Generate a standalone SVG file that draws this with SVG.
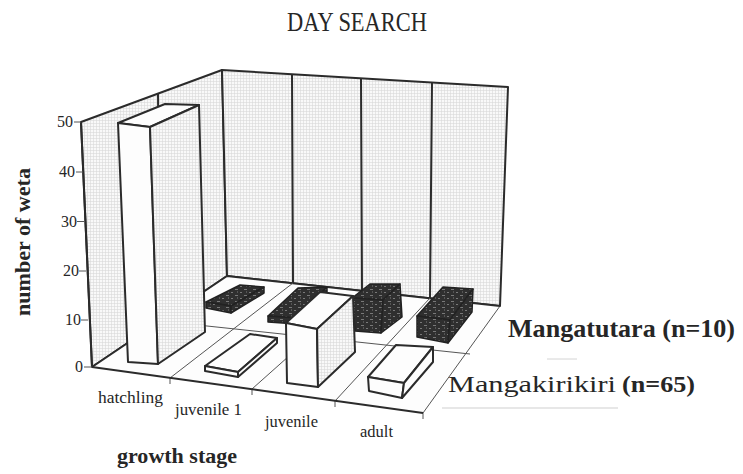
<svg xmlns="http://www.w3.org/2000/svg" width="743" height="474" viewBox="0 0 743 474">
<defs>
<pattern id="grid" width="3" height="3" patternUnits="userSpaceOnUse">
<rect width="3" height="3" fill="#f9f9f9"/>
<path d="M0 0.5H3M0.5 0V3" stroke="#d8d8d8" stroke-width="0.6"/>
</pattern>
<pattern id="dark" width="9" height="6" patternUnits="userSpaceOnUse">
<rect width="9" height="6" fill="#2f2f2f"/>
<path d="M1 1.5h3M6 4.5h2M3 4h1" stroke="#9a9a9a" stroke-width="0.7"/>
</pattern>
<style>
.ln{fill:none;stroke:#2b2b2b;stroke-width:2;stroke-linejoin:round}
.thin{fill:none;stroke:#555;stroke-width:1}
.wall{fill:url(#grid);stroke:#2b2b2b;stroke-width:2;stroke-linejoin:round}
.wh{fill:#fdfdfd;stroke:#2b2b2b;stroke-width:2;stroke-linejoin:round}
.gr{fill:url(#grid);stroke:#2b2b2b;stroke-width:2;stroke-linejoin:round}
.dk{fill:url(#dark);stroke:#222;stroke-width:1.5;stroke-linejoin:round}
.t{font-family:"Liberation Serif","Times New Roman",serif;fill:#262626}
.tick{font-size:16px;text-anchor:end}
.cat{font-size:16.5px}
.b{font-weight:bold}
</style>
</defs>
<rect width="743" height="474" fill="#ffffff"/>
<text class="t" x="357" y="31" font-size="28" text-anchor="middle" textLength="140" lengthAdjust="spacingAndGlyphs">DAY SEARCH</text>

<g id="walls">
<polygon class="wall" points="81,122 222,70 227,276 92,367"/>
<polygon class="wall" points="222,70 508,87 500,306 227,276"/>
<path class="ln" stroke-width="1.5" d="M292,74 L293,283 M361,78 L362,291 M432,82.5 L430,298"/>
<path class="ln" stroke-width="1.2" d="M158,94 L160,321"/>
</g>

<g id="floor">
<polygon points="92,367 227,276 500,306 423,413" fill="#fdfdfd"/>
<path class="thin" d="M500,306 L423,413"/>
<path class="ln" stroke-width="1.6" d="M92,367 L227,276 L500,306"/>
<path class="thin" d="M170,378 L293,283 M252,389 L362,291 M335,401 L430,298 M160,321 L470,354"/>
<path class="thin" d="M170,378 V384 M252,389 V395 M335,401 V407 M423,413 V419"/>
<path class="ln" d="M81,122 L92,367"/>
<path class="ln" stroke-width="1.5" d="M92,367 L423,413"/>
</g>

<g id="y-axis">
<path class="thin" d="M74,122 H81 M76,172 H83 M77,221.5 H84 M79,271 H86 M81,320 H88 M84,367 H92"/>
<text class="t tick" x="73" y="127">50</text>
<text class="t tick" x="75" y="177">40</text>
<text class="t tick" x="77" y="227">30</text>
<text class="t tick" x="79" y="276">20</text>
<text class="t tick" x="81" y="325">10</text>
<text class="t tick" x="83" y="372">0</text>
<text class="t b" transform="translate(30,242) rotate(-90)" font-size="20" text-anchor="middle" textLength="148" lengthAdjust="spacingAndGlyphs">number of weta</text>
</g>

<g id="bars-mangatutara">
<g id="mt-hatchling">
<polygon class="dk" points="206,302 240,285 264,287 231,306"/>
<polygon class="dk" points="206,302 231,306 231,313 206,308"/>
<polygon class="dk" points="231,306 264,287 264,293 231,313"/>
</g>
<g id="mt-juvenile1">
<polygon class="dk" points="268,316 298,288 327,287 297,318"/>
<polygon class="dk" points="268,316 297,318 297,324 268,322"/>
<polygon class="dk" points="297,318 327,287 327,293 297,324"/>
</g>
<g id="mt-juvenile">
<polygon class="dk" points="352,298 370,284 400,284 383,300"/>
<polygon class="dk" points="352,298 383,300 381,333 355,331"/>
<polygon class="dk" points="383,300 400,284 402,317 381,333"/>
</g>
<g id="mt-adult">
<polygon class="dk" points="417,316 443,287 473,289 450,320"/>
<polygon class="dk" points="417,316 450,320 448,343 417,337"/>
<polygon class="dk" points="450,320 473,289 472,312 448,343"/>
</g>
</g>

<g id="bars-mangakirikiri">
<g id="mk-hatchling">
<polygon class="wh" points="118,123 150,127 199,105 165,104"/>
<polygon class="wh" points="118,123 150,127 158,364 128,362"/>
<polygon class="gr" points="150,127 199,105 205,332 158,364"/>
</g>
<g id="mk-juvenile1">
<polygon class="wh" points="205,366 250,334 277,338 238,372"/>
<polygon class="wh" points="205,366 238,372 238,377 205,371"/>
<polygon class="wh" points="238,372 277,338 277,343 238,377"/>
</g>
<g id="mk-juvenile">
<polygon class="wh" points="286,323 320,292 353,296 317,329"/>
<polygon class="wh" points="286,323 317,329 318,387 287,383"/>
<polygon class="gr" points="317,329 353,296 355,352 318,387"/>
</g>
<g id="mk-adult">
<polygon class="wh" points="368,377 396,345 433,347 404,383"/>
<polygon class="wh" points="368,377 404,383 402,398 369,391"/>
<polygon class="wh" points="404,383 433,347 433,362 402,398"/>
</g>
</g>

<g id="x-axis">
<text class="t cat" x="98" y="403" textLength="65" lengthAdjust="spacingAndGlyphs">hatchling</text>
<text class="t cat" x="175" y="415" textLength="67" lengthAdjust="spacingAndGlyphs">juvenile 1</text>
<text class="t cat" x="265" y="427" textLength="53" lengthAdjust="spacingAndGlyphs">juvenile</text>
<text class="t cat" x="360" y="437" textLength="33" lengthAdjust="spacingAndGlyphs">adult</text>
<text class="t b" x="117" y="463" font-size="21" textLength="120" lengthAdjust="spacingAndGlyphs">growth stage</text>
</g>

<g id="legend">
<text class="t b" x="508" y="337" font-size="25" textLength="227" lengthAdjust="spacingAndGlyphs">Mangatutara (n=10)</text>
<path d="M547,359 H577" stroke="#d4d4d4" stroke-width="1"/>
<text class="t" x="448" y="392" font-size="23" textLength="168" lengthAdjust="spacingAndGlyphs">Mangakirikiri</text>
<text class="t b" x="622" y="392" font-size="24" textLength="73" lengthAdjust="spacingAndGlyphs">(n=65)</text>
<path d="M442,408 H618" stroke="#cfcfcf" stroke-width="1"/>
</g>
</svg>
